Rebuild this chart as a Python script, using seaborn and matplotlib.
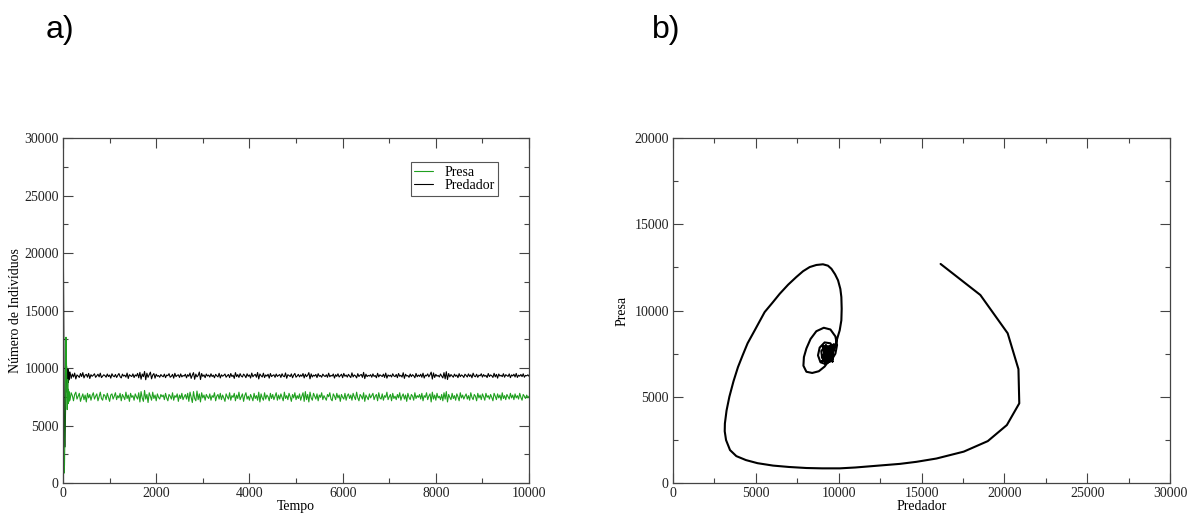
import numpy as np
import pandas as pd
import matplotlib
matplotlib.use('Agg')
import matplotlib.pyplot as plt
import matplotlib.ticker as mticker
import seaborn as sns

# ========== dados ==========
# transiente inicial (predador, presa), lido do retrato de fase
predador_trans = [16150, 18550, 20200, 20850, 20900, 20150, 19000, 17550, 15900, 14700,
                  13700, 12000, 11000, 10060, 9000, 8050, 7000, 6040, 5100, 4400,
                  3820, 3440, 3200, 3120, 3130, 3230, 3400, 3650, 3920, 4200,
                  4500, 4930, 5530, 6000, 6440, 6950, 7440, 7850, 8250, 8650,
                  9050, 9350, 9560, 9780, 9960, 10100, 10160, 10180, 10160, 10060,
                  9950,
                  9800, 9650, 9450, 9150, 8800, 8400, 8050, 7870, 7900, 8050,
                  8300, 8650, 9100, 9500, 9800, 9900, 9800, 9550, 9200, 8900,
                  8750, 8850, 9150, 9500, 9700, 9600, 9300, 9000, 8950, 9200,
                  9550, 9600, 9350, 9150, 9300]
presa_trans = [12700, 10900, 8680, 6600, 4620, 3360, 2430, 1820, 1420, 1230,
               1110, 980, 900, 850, 850, 870, 930, 1010, 1150, 1330,
               1560, 1910, 2490, 3000, 3450, 4200, 5000, 5900, 6720, 7400,
               8100, 8850, 9910, 10450, 10970, 11500, 11940, 12280, 12520, 12640,
               12680, 12600, 12420, 12100, 11750, 11250, 10780, 10100, 9430, 8850,
               8500,
               8000, 7600, 7150, 6750, 6480, 6380, 6450, 6800, 7300, 7800,
               8350, 8800, 9000, 8900, 8500, 8000, 7500, 7100, 6900, 7000,
               7400, 7850, 8150, 8100, 7750, 7300, 7050, 7250, 7650, 7950,
               7850, 7450, 7200, 7450, 7750]

# regime estacionário, t = 150 ... 10000 (passo 25)
predador_est = [
    9650, 9100, 9480, 9220, 9560, 9050, 9400, 9310, 9180, 9520, 9260, 9600, 9140, 9380, 9450, 9200, 9530, 9090, 9420, 9280,
    9370, 9500, 9190, 9330, 9460, 9230, 9550, 9170, 9290, 9410, 9340, 9200, 9480, 9260, 9390, 9120, 9500, 9310, 9240, 9440,
    9180, 9360, 9520, 9250, 9140, 9470, 9300, 9380, 9210, 9560, 9090, 9420, 9330, 9260, 9490, 9170, 9400, 9300, 9530, 9150,
    9620, 9030, 9480, 9250, 9700, 8980, 9550, 9190, 9410, 9640, 9060, 9380, 9520, 9120, 9460, 9280, 9350, 9200, 9430, 9310,
    9240, 9470, 9160, 9390, 9330, 9510, 9200, 9280, 9450, 9120, 9540, 9250, 9360, 9410, 9180, 9490, 9230, 9350, 9300, 9460,
    9150, 9420, 9280, 9560, 9100, 9380, 9600, 9020, 9470, 9230, 9350, 9650, 9000, 9520, 9270, 9400, 9160, 9480, 9300, 9390,
    9210, 9500, 9260, 9380, 9150, 9450, 9320, 9230, 9540, 9140, 9410, 9290, 9360, 9480, 9200, 9330, 9440, 9170, 9520, 9260,
    9380, 9100, 9600, 9250, 9430, 9180, 9510, 9300, 9220, 9470, 9350, 9160, 9500, 9280, 9400, 9130, 9560, 9240, 9370, 9450,
    9200, 9610, 9050, 9480, 9330, 9220, 9550, 9170, 9400, 9290, 9460, 9120, 9520, 9260, 9350, 9410, 9190, 9480, 9270, 9360,
    9430, 9180, 9500, 9300, 9240, 9570, 9110, 9420, 9350, 9260, 9490, 9150, 9380, 9530, 9200, 9310, 9450, 9230, 9400, 9280,
    9520, 9140, 9460, 9250, 9370, 9600, 9060, 9490, 9220, 9380, 9300, 9440, 9170, 9510, 9280, 9350, 9200, 9470, 9330, 9260,
    9410, 9190, 9550, 9240, 9360, 9300, 9480, 9130, 9420, 9270, 9500, 9220, 9340, 9460, 9160, 9530, 9280, 9390, 9210, 9450,
    9300, 9170, 9580, 9230, 9400, 9320, 9140, 9510, 9260, 9380, 9440, 9190, 9620, 9080, 9470, 9250, 9360, 9300, 9420, 9200,
    9490, 9270, 9350, 9150, 9540, 9230, 9410, 9330, 9260, 9470, 9180, 9560, 9120, 9400, 9290, 9380, 9220, 9500, 9310, 9250,
    9440, 9160, 9520, 9280, 9370, 9210, 9590, 9100, 9460, 9300, 9350, 9190, 9480, 9250, 9420, 9330, 9150, 9530, 9240, 9390,
    9270, 9460, 9200, 9550, 9130, 9380, 9310, 9490, 9230, 9410, 9640, 9040, 9570, 9180, 9450, 9290, 9360, 9220, 9480, 9300,
    9140, 9600, 9060, 9680, 9000, 9520, 9230, 9430, 9310, 9200, 9470, 9280, 9390, 9160, 9510, 9250, 9400, 9330, 9180, 9460,
    9350, 9220, 9490, 9270, 9410, 9150, 9550, 9300, 9240, 9460, 9190, 9380, 9320, 9500, 9210, 9430, 9280, 9360, 9170, 9520,
    9260, 9400, 9330, 9180, 9540, 9230, 9450, 9120, 9480, 9300, 9370, 9250, 9510, 9200, 9420, 9340, 9270, 9490, 9160, 9400,
    9310, 9460, 9220, 9530, 9180, 9380, 9290, 9440, 9250, 9500, 9200, 9360, 9320, 9410, 9280]
presa_est = [
    7200, 7850, 7600, 7150, 7700, 7900, 7300, 7550, 7800, 7100, 7450, 7750, 7250, 7650, 7050, 7800, 7400, 7700, 7200, 7600,
    7850, 7300, 7550, 7750, 7150, 7500, 7900, 7350, 7200, 7700, 7600, 7250, 7800, 7450, 7100, 7650, 7750, 7300, 7550, 7850,
    7250, 7600, 7400, 7800, 7150, 7700, 7500, 7250, 7900, 7350, 7650, 7100, 7800, 7450, 7600, 7200, 7750, 7500, 7300, 7850,
    7050, 7950, 7400, 7100, 8050, 7300, 7700, 7000, 7850, 7550, 7200, 7900, 7350, 7650, 7150, 7750, 7450, 7300, 7700, 7500,
    7650, 7250, 7800, 7400, 7150, 7700, 7550, 7300, 7850, 7200, 7600, 7450, 7750, 7100, 7650, 7350, 7800, 7250, 7500, 7700,
    7300, 7800, 7100, 7900, 7450, 7000, 7950, 7350, 7150, 8000, 7250, 7750, 7050, 7850, 7400, 7650, 7200, 7700, 7500, 7350,
    7750, 7200, 7600, 7450, 7850, 7150, 7550, 7700, 7300, 7800, 7250, 7650, 7400, 7100, 7750, 7500, 7300, 7850, 7200, 7600,
    7450, 7800, 7150, 7650, 7350, 7900, 7250, 7500, 7750, 7100, 7600, 7850, 7300, 7550, 7200, 7700, 7450, 7150, 7800, 7350,
    7600, 7200, 7900, 7050, 7750, 7400, 7200, 7850, 7300, 7650, 7500, 7150, 7800, 7350, 7700, 7250, 7550, 7850, 7200, 7650,
    7300, 7750, 7450, 7150, 7900, 7350, 7600, 7250, 7800, 7500, 7100, 7700, 7400, 7850, 7250, 7600, 7350, 7750, 7200, 7550,
    7850, 7100, 7950, 7250, 7700, 7050, 7900, 7400, 7200, 7800, 7550, 7300, 7750, 7150, 7650, 7450, 7850, 7250, 7600, 7400,
    7200, 7700, 7500, 7850, 7300, 7150, 7750, 7550, 7250, 7800, 7400, 7650, 7100, 7700, 7450, 7300, 7800, 7200, 7600, 7750,
    7350, 7650, 7200, 7800, 7500, 7250, 7900, 7400, 7150, 7700, 7550, 7300, 7850, 7100, 7650, 7450, 7250, 7750, 7400, 7600,
    7800, 7250, 7550, 7700, 7150, 7850, 7400, 7300, 7750, 7200, 7600, 7450, 7900, 7250, 7500, 7700, 7150, 7800, 7350, 7550,
    7250, 7700, 7400, 7850, 7200, 7550, 7750, 7300, 7650, 7100, 7800, 7450, 7250, 7700, 7550, 7200, 7850, 7350, 7600, 7450,
    7700, 7300, 7800, 7150, 7600, 7450, 7850, 7250, 7550, 7750, 7050, 7900, 7300, 7650, 7200, 7800, 7400, 7550, 7250, 7700,
    7150, 7850, 7300, 7950, 7050, 7700, 7450, 7250, 7800, 7350, 7600, 7200, 7750, 7500, 7150, 7850, 7400, 7650, 7300, 7550,
    7750, 7300, 7600, 7200, 7850, 7450, 7250, 7700, 7550, 7150, 7800, 7400, 7650, 7250, 7750, 7500, 7200, 7800, 7450, 7600,
    7300, 7700, 7450, 7150, 7800, 7550, 7250, 7750, 7400, 7650, 7200, 7850, 7350, 7600, 7250, 7700, 7500, 7300, 7800, 7400,
    7650, 7250, 7750, 7400, 7600, 7300, 7800, 7450, 7200, 7700, 7550, 7350, 7650, 7400, 7550]

t_trans = np.arange(len(predador_trans)) * 1.6
t_est = 150 + 25 * np.arange(len(predador_est))

df = pd.DataFrame({
    'Tempo': np.concatenate([t_trans, t_est]),
    'Predador': predador_trans + predador_est,
    'Presa': presa_trans + presa_est,
})

# ========== estilo ==========
sns.set_style('ticks')
plt.rcParams['font.family'] = ['Liberation Serif', 'DejaVu Serif']
plt.rcParams['font.size'] = 10
plt.rcParams['text.color'] = 'black'
plt.rcParams['axes.labelcolor'] = 'black'
plt.rcParams['xtick.labelcolor'] = '#222222'
plt.rcParams['ytick.labelcolor'] = '#222222'
verde = '#1fa01f'


def estilo_grace(ax, xmax, ymax, xmaj, ymaj):
    ax.set_xlim(0, xmax)
    ax.set_ylim(0, ymax)
    ax.xaxis.set_major_locator(mticker.MultipleLocator(xmaj))
    ax.xaxis.set_minor_locator(mticker.MultipleLocator(xmaj / 2))
    ax.yaxis.set_major_locator(mticker.MultipleLocator(ymaj))
    ax.yaxis.set_minor_locator(mticker.MultipleLocator(ymaj / 2))
    ax.tick_params(which='both', direction='in', top=True, right=True,
                   color='#444444', width=0.8, labelsize=10, pad=3)
    ax.tick_params(which='major', length=7)
    ax.tick_params(which='minor', length=3.5)
    for s in ax.spines.values():
        s.set_color('#444444')
        s.set_linewidth(0.9)
        s.set_visible(True)


fig = plt.figure(figsize=(11.91, 5.15), dpi=100)
ax1 = fig.add_axes([0.0529, 0.0621, 0.3913, 0.6699])
ax2 = fig.add_axes([0.5651, 0.0621, 0.4173, 0.6699])

# ---------- a) série temporal ----------
sns.lineplot(data=df, x='Tempo', y='Predador', color='black', linewidth=0.8,
             label='Predador', ax=ax1, sort=False, estimator=None)
sns.lineplot(data=df, x='Tempo', y='Presa', color=verde, linewidth=0.8,
             label='Presa', ax=ax1, sort=False, estimator=None)
estilo_grace(ax1, 10000, 30000, 2000, 5000)
ax1.set_xlabel('Tempo', labelpad=0)
ax1.set_ylabel('Número de Indivíduos', labelpad=2)
h, l = ax1.get_legend_handles_labels()
leg = ax1.legend(h[::-1], l[::-1], loc='upper right', bbox_to_anchor=(0.934, 0.93),
                 fancybox=False, framealpha=1, edgecolor='#555555', fontsize=10,
                 handlelength=1.4, handletextpad=0.8, borderpad=0.25,
                 labelspacing=0.05, borderaxespad=0)
leg.get_frame().set_linewidth(0.8)

# ---------- b) retrato de fase ----------
sns.lineplot(data=df, x='Predador', y='Presa', color='black', linewidth=1.5,
             ax=ax2, sort=False, estimator=None)
estilo_grace(ax2, 30000, 20000, 5000, 5000)
ax2.set_xlabel('Predador', labelpad=0)
ax2.set_ylabel('Presa', labelpad=4)

fig.text(0.038, 0.942, 'a)', fontsize=23, va='center', family=['Liberation Sans'])
fig.text(0.5474, 0.942, 'b)', fontsize=23, va='center', family=['Liberation Sans'])

plt.savefig('out.png', dpi=100)
